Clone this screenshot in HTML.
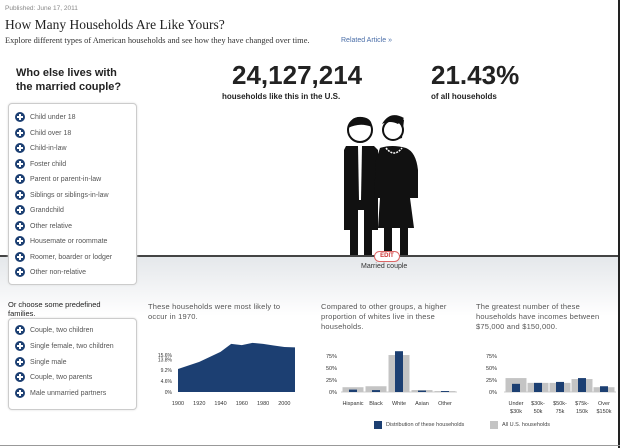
<!DOCTYPE html>
<html><head><meta charset="utf-8"><style>
body{margin:0;width:624px;height:448px;overflow:hidden;background:#fff;font-family:"Liberation Sans",sans-serif;position:relative}
.a{position:absolute;white-space:nowrap}
.box{position:absolute;left:8px;width:127px;border:1px solid #ccc;border-radius:4px;background:#fff;box-shadow:0 0 2px #ddd}
.it{position:absolute;left:6px;font-size:7px;color:#555;height:12px;line-height:12px}
.it i{display:inline-block;width:10px;height:10px;border-radius:50%;background:#1c3f72;vertical-align:middle;margin-right:5px;position:relative}
.it i:before{content:"";position:absolute;left:2px;top:4px;width:6px;height:2px;background:#fff}
.it i:after{content:"";position:absolute;left:4px;top:2px;width:2px;height:6px;background:#fff}
.hd{font-size:7.5px;color:#555;line-height:10px;white-space:normal;letter-spacing:.2px}
</style></head><body>
<div class="a" style="left:0;top:256px;width:618px;height:190px;background:linear-gradient(#e4e7ea,#fff 60px)"></div>
<div class="a" style="left:0;top:255px;width:618px;height:2px;background:#444"></div>
<div class="a" style="left:618px;top:0;width:2px;height:448px;background:#222"></div>
<div class="a" style="left:0;top:445px;width:620px;height:1px;background:#999"></div>

<div class="a" style="left:5px;top:5px;font-size:6.5px;color:#888">Published: June 17, 2011</div>
<div class="a" style="left:5px;top:17px;font-size:13.5px;font-family:'Liberation Serif',serif;color:#222">How Many Households Are Like Yours?</div>
<div class="a" style="left:5px;top:36px;font-size:8.4px;font-family:'Liberation Serif',serif;color:#333">Explore different types of American households and see how they have changed over time.</div>
<div class="a" style="left:341px;top:37px;font-size:7px;color:#4a6ea8">Related Article »</div>

<div class="a" style="left:16px;top:66px;font-size:11px;font-weight:bold;color:#222;line-height:14px">Who else lives with<br>the married couple?</div>
<div class="a" style="left:232px;top:60px;font-size:26px;font-weight:bold;color:#222">24,127,214</div>
<div class="a" style="left:222px;top:92px;font-size:8px;font-weight:bold;color:#222">households like this in the U.S.</div>
<div class="a" style="left:431px;top:60px;font-size:26px;font-weight:bold;color:#222">21.43%</div>
<div class="a" style="left:431px;top:92px;font-size:8px;font-weight:bold;color:#222">of all households</div>

<div class="box" style="top:103px;height:180px">
<div class="it" style="top:8px"><i></i>Child under 18</div>
<div class="it" style="top:24px"><i></i>Child over 18</div>
<div class="it" style="top:39px"><i></i>Child-in-law</div>
<div class="it" style="top:55px"><i></i>Foster child</div>
<div class="it" style="top:70px"><i></i>Parent or parent-in-law</div>
<div class="it" style="top:86px"><i></i>Siblings or siblings-in-law</div>
<div class="it" style="top:101px"><i></i>Grandchild</div>
<div class="it" style="top:117px"><i></i>Other relative</div>
<div class="it" style="top:132px"><i></i>Housemate or roommate</div>
<div class="it" style="top:148px"><i></i>Roomer, boarder or lodger</div>
<div class="it" style="top:163px"><i></i>Other non-relative</div>
</div>
<div class="a" style="left:8px;top:300px;font-size:7.5px;color:#222;line-height:9px">Or choose some predefined<br>families.</div>
<div class="box" style="top:318px;height:90px">
<div class="it" style="top:6px"><i></i>Couple, two children</div>
<div class="it" style="top:22px"><i></i>Single female, two children</div>
<div class="it" style="top:38px"><i></i>Single male</div>
<div class="it" style="top:53px"><i></i>Couple, two parents</div>
<div class="it" style="top:69px"><i></i>Male unmarried partners</div>
</div>

<svg class="a" style="left:330px;top:110px" width="110" height="148" viewBox="0 0 110 148">
<circle cx="30" cy="20" r="12" fill="#fff" stroke="#111" stroke-width="2"/>
<path d="M18 18 Q20 6 32 7 Q42 8 42 17 Q30 12 18 18Z" fill="#111"/>
<path d="M16 36 L44 36 L48 40 L48 120 L42 120 L42 145 L34 145 L34 100 L28 100 L28 145 L20 145 L20 120 L14 120 L14 40Z" fill="#111"/>
<path d="M28 36 L32 36 L31 90 L29 90Z" fill="#fff"/>
<path d="M56 10 Q66 2 74 10 L72 28 Q62 32 56 24Z" fill="#111"/>
<circle cx="63" cy="20" r="10" fill="#fff" stroke="#111" stroke-width="2"/>
<path d="M52 14 Q60 0 74 8 L68 14 Q60 10 52 14Z" fill="#111"/>
<path d="M50 38 Q62 34 76 38 Q86 42 88 60 L88 88 L80 88 L84 118 L48 118 L50 88 L44 88 L46 50Z" fill="#111"/>
<path d="M56 38 Q64 48 72 38" fill="none" stroke="#fff" stroke-width="1.5" stroke-dasharray="2 1"/>
<rect x="54" y="118" width="8" height="27" fill="#111"/><rect x="70" y="118" width="8" height="27" fill="#111"/>
</svg>
<div class="a" style="left:374px;top:251px;width:24px;height:9px;border:1px solid #d66;border-radius:6px;background:#fff;font-size:6px;font-weight:bold;color:#c33;text-align:center;line-height:9px">EDIT</div>
<div class="a" style="left:361px;top:263px;font-size:7px;color:#333">Married couple</div>

<div class="a hd" style="left:148px;top:302px;width:150px">These households were most likely to occur in 1970.</div>
<div class="a hd" style="left:321px;top:302px;width:145px">Compared to other groups, a higher proportion of whites live in these households.</div>
<div class="a hd" style="left:476px;top:302px;width:140px">The greatest number of these households have incomes between $75,000 and $150,000.</div>

<svg class="a" style="left:0;top:0" width="624" height="448" id="ch"></svg>

<div class="a" style="left:374px;top:421px;width:8px;height:8px;background:#1c3f72"></div>
<div class="a" style="left:386px;top:422px;font-size:5.5px;color:#444">Distribution of these households</div>
<div class="a" style="left:490px;top:421px;width:8px;height:8px;background:#c4c4c4"></div>
<div class="a" style="left:502px;top:422px;font-size:5.5px;color:#444">All U.S. households</div>

<script>
const years=[1900,1920,1940,1950,1960,1970,1980,1990,2000,2010];
const yearShares=[9.7,12.7,16.9,20.3,19.8,20.7,20.3,19.6,19.0,18.8];
const timeTicks=[0,4.6,9.2,13.8,15.6];
const yearTicks=[1900,1920,1940,1960,1980,2000];
const races=["Hispanic","Black","White","Asian","Other"];
const raceThese=[5,4,85,3,2];
const raceAll=[10,12,77,4,2];
const incomes=[["Under","$30k"],["$30k-","50k"],["$50k-","75k"],["$75k-","150k"],["Over","$150k"]];
const incThese=[17,19,21,29,12];
const incAll=[29,19,19,27,10];
const pctTicks=[0,25,50,75];

const svg=document.getElementById('ch');const NS='http://www.w3.org/2000/svg';
function mk(t,a,txt){const e=document.createElementNS(NS,t);for(const k in a)e.setAttribute(k,a[k]);if(txt!=null)e.textContent=txt;svg.appendChild(e);return e;}
const base=392;
const xT=y=>178+(y-1900)*(117/110), yT=v=>base-v*2.37;
let d='M'+xT(years[0])+' '+base;
years.forEach((y,i)=>d+=' L'+xT(y).toFixed(1)+' '+yT(yearShares[i]).toFixed(1));
d+=' L'+xT(years[years.length-1])+' '+base+'Z';
let p=mk('path',{d:d,fill:'#1c3f72'});


timeTicks.forEach(v=>{let t=mk('text',{x:172,y:yT(v)+2,'font-size':5,'text-anchor':'end',fill:'#333'},v+'%');

});
yearTicks.forEach(y=>{let t=mk('text',{x:xT(y),y:405,'font-size':5.5,'text-anchor':'middle',fill:'#333'},y);

});
const yP=v=>base-v*0.48;
function bars(cx0,step,these,all,labels,tx,nm){
  mk('line',{x1:cx0-12,x2:cx0+step*4+12,y1:base,y2:base,stroke:'#999','stroke-width':0.5});
  pctTicks.forEach(v=>{let t=mk('text',{x:tx,y:yP(v)+2,'font-size':5.5,'text-anchor':'end',fill:'#333'},v+'%');
  
  });
  labels.forEach((l,i)=>{const cx=cx0+i*step;
    let g=mk('rect',{x:cx-10.5,y:yP(all[i]),width:21,height:base-yP(all[i]),fill:'#c4c4c4'});
    
    
    let b=mk('rect',{x:cx-4,y:yP(these[i]),width:8,height:base-yP(these[i]),fill:'#1c3f72'});
    
    
    const ls=Array.isArray(l)?l:[l];
    ls.forEach((s,j)=>{let t=mk('text',{x:cx,y:405+j*8,'font-size':5.5,'text-anchor':'middle',fill:'#333'},s);
    
    });
  });
}
bars(353,23,raceThese,raceAll,races,337,'race');
bars(516,22,incThese,incAll,incomes,497,'income');
</script>
</body></html>
